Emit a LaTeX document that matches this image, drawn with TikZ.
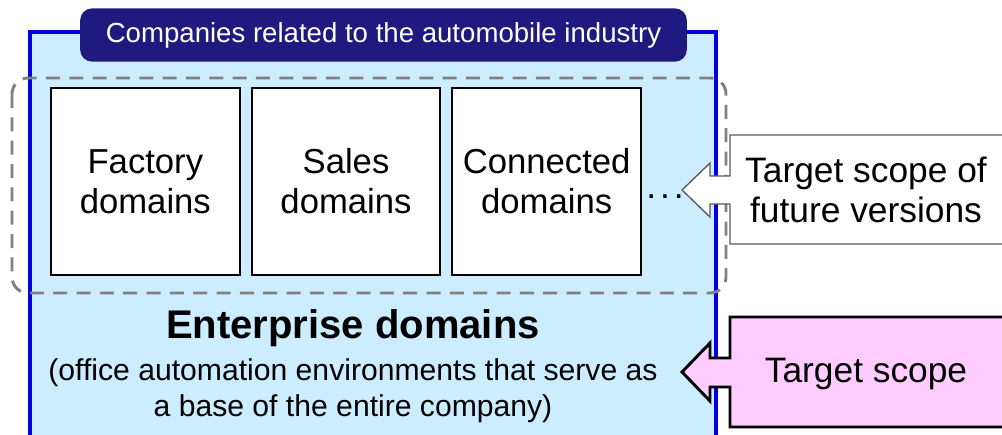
\documentclass[tikz,border=0pt]{standalone}
\usepackage{fontspec}
\setmainfont{Liberation Sans}
\usetikzlibrary{positioning,calc}

\definecolor{areablue}{RGB}{204,236,255}
\definecolor{edgeblue}{RGB}{0,0,225}
\definecolor{titlenavy}{RGB}{32,26,128}
\definecolor{scopegray}{RGB}{128,128,128}
\definecolor{scopepink}{RGB}{255,204,255}

\begin{document}
\begin{tikzpicture}[x=0.75pt,y=-0.75pt,
domainbox/.style={draw,line width=1.5pt,fill=white,align=center,
  minimum width=141.5pt,minimum height=140pt,inner sep=0pt,
  font=\fontsize{26}{30}\selectfont},
bigtext/.style={align=center,font=\fontsize{26.5}{30}\selectfont},
node distance=7.5pt]

\useasboundingbox (0,0) rectangle (1002,435);

% enterprise area
\draw[edgeblue,line width=2.5pt,fill=areablue] (30,32) rectangle (716,450);

% industry title
\node[fill=titlenavy,text=white,rounded corners=9pt,minimum width=455pt,
  minimum height=40pt,font=\fontsize{20.7}{24}\selectfont] (title) at (383.5,35)
  {Companies related to the automobile industry};

% future scope frame
\draw[scopegray,line width=2.2pt,dash pattern=on 10.5pt off 7pt,
  rounded corners=12pt] (12,78) rectangle (726,293);

% domains
\node[domainbox,anchor=north west] (factory) at (50,87) {Factory\\domains};
\node[domainbox,right=of factory] (sales) {Sales\\domains};
\node[domainbox,right=of sales] (connected) {Connected\\domains};
\node[bigtext,anchor=base] (more) at (665,198) {.\hspace{3pt}.\hspace{3pt}.};

\node[font=\fontsize{30}{34}\selectfont\bfseries] (enterprise) at (353,328)
  {Enterprise domains};
\node[align=center,font=\fontsize{22.6}{27}\selectfont,below=2pt of enterprise]
  (oa) {(office automation environments that serve as\\a base of the entire company)};

% callouts
\draw[draw=black!65,line width=1pt,fill=white]
  (1010,135) -- (730,135) -- (730,176) -- (710,176) -- (710,163) -- (682,190)
  -- (710,217) -- (710,204) -- (730,204) -- (730,244) -- (1010,244) -- cycle;
\node[bigtext] (future) at (866,190) {Target scope of\\future versions};

\draw[line width=2.2pt,fill=scopepink]
  (1010,317) -- (730,317) -- (730,358) -- (710,358) -- (710,343) -- (682,372)
  -- (710,401) -- (710,387) -- (730,387) -- (730,427) -- (1010,427) -- cycle;
\node[bigtext] (current) at (866,374) {Target scope};
\end{tikzpicture}
\end{document}
